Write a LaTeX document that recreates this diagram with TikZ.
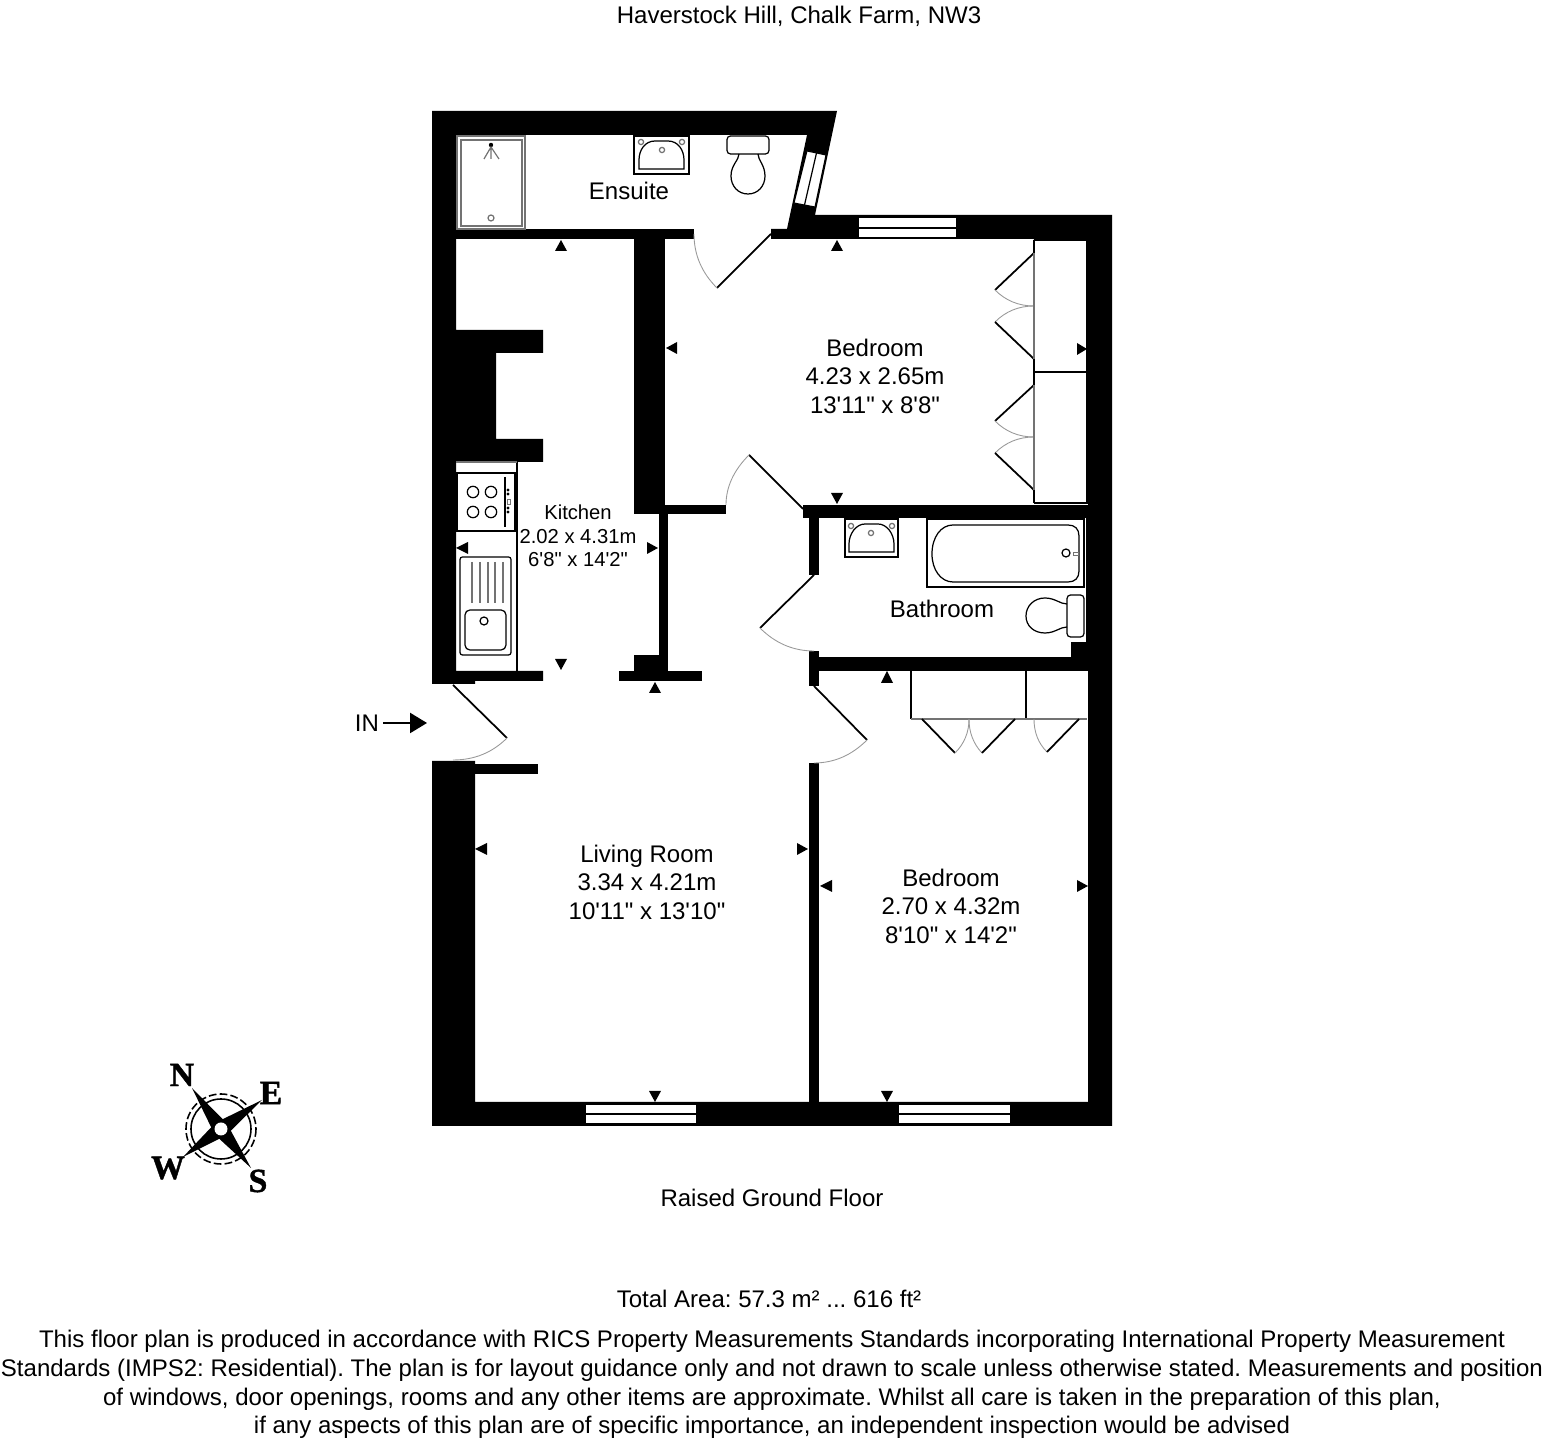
\documentclass[tikz,border=0pt]{standalone}
\usepackage{fontspec}
\usepackage{tikz}
\usetikzlibrary{arrows.meta}
\newfontfamily\plansf{Liberation Sans}
\newfontfamily\compassrm{Liberation Serif Bold}[FakeBold=1.2]

\begin{document}
\frenchspacing
\begin{tikzpicture}[x=0.01cm,y=-0.01cm,
  wall/.style={fill=black},
  glass/.style={fill=white,draw=black,line width=0.3pt},
  leaf/.style={draw=black,line width=0.5pt},
  swing/.style={draw=black!40,line width=0.25pt},
  fit line/.style={draw=black,line width=0.35pt},
  grey line/.style={draw=black!55,line width=0.35pt},
  room label/.style={font=\plansf\fontsize{6.83}{8.1}\selectfont,align=center},
  small label/.style={font=\plansf\fontsize{5.75}{6.75}\selectfont,align=center},
  compass letter/.style={font=\compassrm\fontsize{9.6}{10}\selectfont}]
  \useasboundingbox (0,0) rectangle (1544,1440);

  % outer walls and partitions
  \fill[wall] (432,111) -- (837,111) -- (815,215) -- (1112,215) -- (1112,1126) -- (432,1126) -- (432,761)
    -- (475,761) -- (475,1102) -- (1088,1102) -- (1088,671) -- (1086,671) -- (1086,518) -- (1088,518) -- (1088,239)
    -- (771,239) -- (771,229) -- (787,229) -- (807,135) -- (456,135) -- (456,330) -- (543,330) -- (543,353)
    -- (496,353) -- (496,439) -- (543,439) -- (543,462) -- (456,462) -- (456,671) -- (543,671) -- (543,681)
    -- (475,681) -- (475,684) -- (432,684) -- cycle;
  \fill[wall] (456,229) rectangle (694,239);
  \fill[wall] (634,239) rectangle (665,514);
  \fill[wall] (665,505) rectangle (726,514);
  \fill[wall] (659,514) rectangle (668,671);
  \fill[wall] (619,671) rectangle (702,681);
  \fill[wall] (634,655) rectangle (659,671);
  \fill[wall] (475,764) rectangle (538,774);
  \fill[wall] (803,505) rectangle (1088,518);
  \fill[wall] (809,518) rectangle (819,575);
  \fill[wall] (809,651) rectangle (819,686);
  \fill[wall] (819,657) rectangle (1088,671);
  \fill[wall] (1071,642) rectangle (1086,657);
  \fill[wall] (809,763) rectangle (819,1102);

  % windows
  \filldraw[glass] (807,151) -- (826,155) -- (815,207) -- (794,203) -- cycle;
  \draw[fit line] (816.5,153) -- (804.5,205);
  \filldraw[glass] (858,217) rectangle (957,238);
  \draw[fit line] (858,228) -- (957,228);
  \filldraw[glass] (585,1104) rectangle (697,1124);
  \draw[fit line] (585,1114) -- (697,1114);
  \filldraw[glass] (898,1104) rectangle (1011,1124);
  \draw[fit line] (898,1114) -- (1011,1114);

  % doors
  \draw[leaf] (771,234) -- (717,288);
  \draw[swing] (717,288) .. controls (701.7,272.7) and (694,254.7) .. (694,234);
  \draw[leaf] (803,509) -- (749,455);
  \draw[swing] (749,455) .. controls (733.7,470.3) and (726,487) .. (726,505);
  \draw[leaf] (814,575) -- (760,628);
  \draw[swing] (760,628) .. controls (775.3,643.3) and (793.3,651) .. (814,651);
  \draw[leaf] (814,686) -- (867,740);
  \draw[swing] (867,740) .. controls (851.7,755.3) and (834,763) .. (814,763);
  \draw[leaf] (453,685) -- (507,738);
  \draw[swing] (507,738) .. controls (492.3,752.7) and (474.3,760) .. (453,760);

  % wardrobes
  \draw[fit line] (1034,240) -- (1087,240) -- (1087,503) -- (1034,503);
  \draw[leaf] (1034,372) -- (1087,372);
  \draw[leaf] (1034,240) -- (1034,253) -- (995,290);
  \draw[swing] (995,290) .. controls (1005.7,300.7) and (1018.7,306) .. (1034,306);
  \draw[swing] (995,322) .. controls (1005.7,311.3) and (1018.7,306) .. (1034,306);
  \draw[leaf] (995,322) -- (1034,359) -- (1034,385) -- (995,421);
  \draw[swing] (995,421) .. controls (1005.7,431.7) and (1018.7,437) .. (1034,437);
  \draw[swing] (995,453) .. controls (1005.7,442.3) and (1018.7,437) .. (1034,437);
  \draw[leaf] (995,453) -- (1034,490) -- (1034,503);
  \draw[grey line] (1034,253) -- (1034,359);
  \draw[grey line] (1034,385) -- (1034,490);
  \draw[fit line] (911,671) -- (911,719);
  \draw[leaf] (1026,671) -- (1026,719);
  \draw[grey line] (911,719) -- (1087,719);
  \draw[leaf] (922,719) -- (955,753);
  \draw[swing] (955,753) .. controls (964.3,743.7) and (969,732.3) .. (969,719);
  \draw[swing] (982,753) .. controls (973.3,743.7) and (969,732.3) .. (969,719);
  \draw[leaf] (982,753) -- (1015,719);
  \draw[swing] (1047,752) .. controls (1038.3,743.3) and (1034,732.3) .. (1034,719);
  \draw[leaf] (1047,752) -- (1079,719);

  % ensuite fittings
  \draw[grey line] (457,136) rectangle (525,229);
  \draw[grey line] (461,140) rectangle (522,226);
  \fill (491,145) circle[radius=2.2];
  \draw[grey line] (484,159) -- (491,147) -- (499,159) (491,147) -- (491,159);
  \draw[grey line] (491,218) circle[radius=3];
  \draw[fit line,line width=0.5pt] (634,136) rectangle (689,174);
  \draw[fit line] (639,169) -- (684,169) -- (684,160) .. controls (684,150) and (678,141) .. (668,141)
    -- (655,141) .. controls (645,141) and (639,150) .. (639,160) -- cycle;
  \draw[grey line] (641,142) circle[radius=2.6] (682,142) circle[radius=2.6] (662,150) circle[radius=2.6];
  \draw[fit line,rounded corners=1pt] (727,136) rectangle (769,154);
  \draw[fit line] (739,154) .. controls (739,160) and (731,165) .. (731,176) .. controls (731,186) and (738,194) .. (748,194)
    .. controls (758,194) and (765,186) .. (765,176) .. controls (765,165) and (758,160) .. (758,154);

  % kitchen fittings
  \draw[fit line] (517,462) -- (517,671);
  \draw[grey line] (456,462) -- (517,462);
  \draw[fit line] (457,473) rectangle (515,531);
  \draw[fit line] (473,492) circle[radius=5.7] (491,492) circle[radius=5.7] (473,512) circle[radius=5.7] (491,512) circle[radius=5.7];
  \draw[fit line] (505,477) -- (505,527);
  \fill (508,490) circle[radius=1.6] (508,494) circle[radius=1.6] (508,508) circle[radius=1.6] (508,512) circle[radius=1.6];
  \draw[grey line,line width=0.2pt] (507,499) rectangle (510,504);
  \draw[fit line,rounded corners=0.7pt] (460,557) rectangle (511,655);
  \draw[fit line,rounded corners=1.4pt] (465,610) rectangle (506,650);
  \draw[fit line] (484,621) circle[radius=4];
  \draw[grey line] (472,562) -- (472,603) (480,562) -- (480,603) (488,562) -- (488,603) (495,562) -- (495,603) (503,562) -- (503,603);

  % bathroom fittings
  \draw[fit line,line width=0.5pt] (845,519) rectangle (898,557);
  \draw[fit line] (849,552) -- (894,552) -- (894,544) .. controls (894,534) and (887,524) .. (878,524)
    -- (865,524) .. controls (856,524) and (849,534) .. (849,544) -- cycle;
  \draw[grey line] (851,526) circle[radius=2.6] (892,526) circle[radius=2.6] (871,533) circle[radius=2.6];
  \draw[fit line] (927,519) rectangle (1084,587);
  \draw[fit line] (953,525) -- (1068,525) .. controls (1075,525) and (1079,529) .. (1079,536) -- (1079,571)
    .. controls (1079,578) and (1075,582) .. (1068,582) -- (953,582) .. controls (941,582) and (932,570) .. (932,554)
    .. controls (932,537) and (941,525) .. (953,525) -- cycle;
  \draw[fit line] (1066,553) circle[radius=4];
  \draw[grey line,line width=0.2pt] (1073,552) rectangle (1078,555);
  \draw[fit line,rounded corners=1pt] (1067,595) rectangle (1084,637);
  \draw[fit line] (1067,604) .. controls (1060,604) and (1055,598) .. (1045,598) .. controls (1034,598) and (1026,606) .. (1026,616)
    .. controls (1026,626) and (1034,633) .. (1045,633) .. controls (1055,633) and (1060,627) .. (1067,627);

  % measure marks
  \fill (561,240) -- (567,251) -- (555,251) -- cycle;
  \fill (837,240) -- (843,251) -- (831,251) -- cycle;
  \fill (666,348) -- (677,342) -- (677,354) -- cycle;
  \fill (1087,349) -- (1077,343) -- (1077,355) -- cycle;
  \fill (837,504) -- (843,493) -- (831,493) -- cycle;
  \fill (456,548) -- (468,542) -- (468,554) -- cycle;
  \fill (658,548) -- (647,542) -- (647,554) -- cycle;
  \fill (561,670) -- (567,659) -- (555,659) -- cycle;
  \fill (655,682) -- (661,693) -- (649,693) -- cycle;
  \fill (475,849) -- (487,843) -- (487,855) -- cycle;
  \fill (808,849) -- (797,843) -- (797,855) -- cycle;
  \fill (655,1102) -- (661,1091) -- (649,1091) -- cycle;
  \fill (887,671) -- (893,683) -- (881,683) -- cycle;
  \fill (820,886) -- (832,880) -- (832,892) -- cycle;
  \fill (1088,886) -- (1077,880) -- (1077,892) -- cycle;
  \fill (887,1102) -- (893,1091) -- (881,1091) -- cycle;

  % compass
  \draw[line width=0.45pt] (221,1129) circle[radius=30];
  \draw[line width=0.45pt,dash pattern=on 2.2pt off 0.9pt] (221,1129) circle[radius=35];
  \fill (192,1088) -- (222.7,1119.2) -- (262,1100) -- (230.8,1130.7) -- (251,1168) -- (219.3,1138.8) -- (183,1157) -- (211.2,1127.3) -- cycle;
  \fill[white] (221,1129) circle[radius=6.5];
  \node[compass letter] (north) at (182,1075) {N};
  \node[compass letter] (east) at (271,1093) {E};
  \node[compass letter] (south) at (258,1181) {S};
  \node[compass letter] (west) at (168,1168) {W};

  % texts
  \node[room label] (title) at (799,16) {Haverstock Hill, Chalk Farm, NW3};
  \node[room label] (ensuite) at (629,191) {Ensuite};
  \node[room label] (bedroomtop) at (875,376) {Bedroom\\4.23 x 2.65m\\13'11" x 8'8"};
  \node[small label] (kitchen) at (578,536) {Kitchen\\2.02 x 4.31m\\6'8" x 14'2"};
  \node[room label] (bathroom) at (942,609) {Bathroom};
  \node[room label] (living) at (647,882) {Living Room\\3.34 x 4.21m\\10'11" x 13'10"};
  \node[room label] (bedroomlow) at (951,906) {Bedroom\\2.70 x 4.32m\\8'10" x 14'2"};
  \node[room label] (floor) at (772,1198) {Raised Ground Floor};
  \node[room label] (area) at (769,1299) {Total Area: 57.3 m² ... 616 ft²};
  \node[room label,font=\plansf\fontsize{6.83}{8.2}\selectfont] (notes) at (772,1384.5) {This floor plan is produced in accordance with RICS Property Measurements Standards incorporating International Property Measurement\\
    Standards (IMPS2: Residential). The plan is for layout guidance only and not drawn to scale unless otherwise stated. Measurements and position\\
    of windows, door openings, rooms and any other items are approximate. Whilst all care is taken in the preparation of this plan,\\
    if any aspects of this plan are of specific importance, an independent inspection would be advised};
  \node[room label,inner sep=0pt,outer sep=1.2pt] (in) at (367,723) {IN};
  \coordinate (inend) at (427,723);
  \draw[-{Triangle[length=4.8pt,width=5.7pt]},line width=0.5pt] (in) -- (inend);
\end{tikzpicture}
\end{document}
